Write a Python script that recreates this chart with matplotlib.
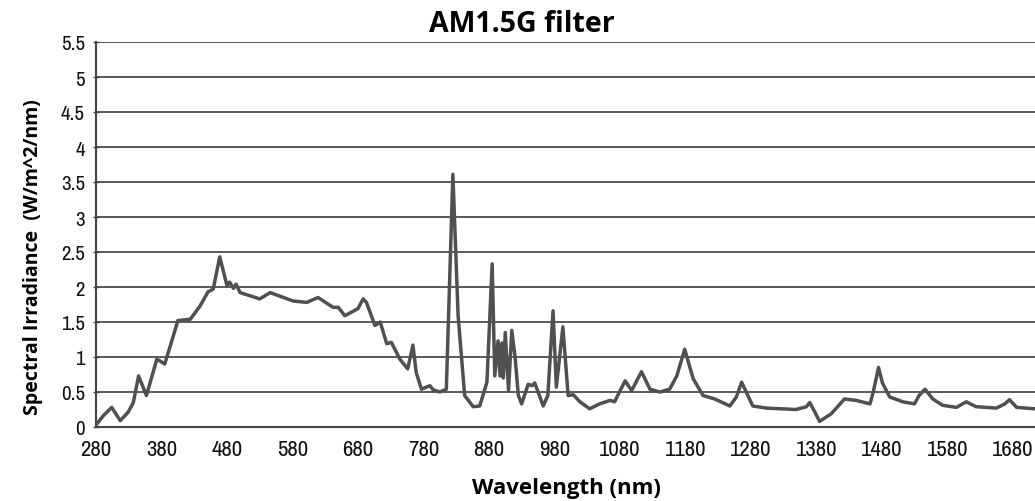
import numpy as np
import matplotlib.pyplot as plt

# wavelength (nm) and spectral irradiance (W/m^2/nm)
wavelength = [281, 291, 304, 317, 329, 337, 345, 357, 373, 385, 398, 405, 424, 439,
              451, 459, 469, 480, 484, 490, 494, 500, 530, 546, 581, 602, 619, 642,
              650, 660, 680, 688, 693, 706, 714, 724, 731, 744, 756, 764, 769, 777,
              790, 795, 805, 815, 825, 833, 843, 856, 866, 877, 885, 889, 894, 897,
              900, 902, 905, 910, 915, 920, 925, 930, 940, 946, 950, 963, 970, 978,
              983, 988, 993, 1001, 1009, 1019, 1034, 1049, 1065, 1072, 1088, 1098,
              1113, 1126, 1141, 1156, 1167, 1179, 1192, 1207, 1225, 1248, 1258, 1266,
              1274, 1283, 1304, 1349, 1365, 1370, 1378, 1385, 1403, 1423, 1441, 1462,
              1467, 1475, 1481, 1492, 1512, 1530, 1537, 1546, 1558, 1573, 1594, 1609,
              1624, 1655, 1668, 1675, 1686, 1714]
irradiance = [0.04, 0.16, 0.28, 0.09, 0.21, 0.35, 0.73, 0.45, 0.97, 0.90, 1.30, 1.52,
              1.54, 1.73, 1.93, 1.97, 2.43, 2.02, 2.07, 1.98, 2.04, 1.92, 1.83, 1.92,
              1.80, 1.78, 1.85, 1.71, 1.71, 1.59, 1.69, 1.83, 1.78, 1.45, 1.50, 1.19,
              1.21, 0.97, 0.83, 1.17, 0.78, 0.54, 0.59, 0.53, 0.50, 0.54, 3.61, 1.59,
              0.45, 0.29, 0.30, 0.64, 2.33, 0.73, 1.23, 0.73, 1.20, 0.70, 1.35, 0.52,
              1.38, 1.00, 0.45, 0.33, 0.61, 0.59, 0.63, 0.30, 0.45, 1.66, 0.57, 1.00,
              1.43, 0.45, 0.46, 0.36, 0.26, 0.33, 0.38, 0.36, 0.66, 0.52, 0.79, 0.54,
              0.50, 0.54, 0.73, 1.11, 0.69, 0.45, 0.40, 0.30, 0.43, 0.64, 0.48, 0.30,
              0.27, 0.25, 0.29, 0.35, 0.21, 0.08, 0.19, 0.40, 0.38, 0.33, 0.50, 0.85,
              0.63, 0.43, 0.36, 0.33, 0.45, 0.54, 0.40, 0.31, 0.28, 0.36, 0.29, 0.27,
              0.33, 0.39, 0.28, 0.26]

xticks = list(range(280, 1681, 100))
yticks = [0, 0.5, 1, 1.5, 2, 2.5, 3, 3.5, 4, 4.5, 5, 5.5]

tick_font = ['Liberation Sans Narrow', 'Archivo Narrow', 'DejaVu Sans']
label_font = ['Open Sans', 'DejaVu Sans']

fig = plt.figure(figsize=(10.35, 5.02), dpi=100)
ax = fig.add_axes([96 / 1035, 74 / 502, 1 - 96 / 1035, 385 / 502])

ax.plot(wavelength, irradiance, color='#505050', linewidth=2.5,
        solid_joinstyle='round', zorder=3)

ax.set_xlim(280, 1714)
ax.set_ylim(0, 5.5)
ax.set_xticks(xticks)
ax.set_yticks(yticks)
ax.set_xticklabels([str(t) for t in xticks], family=tick_font, fontsize=16.5)
ax.set_yticklabels(['%g' % t for t in yticks], family=tick_font, fontsize=15)
ax.tick_params(axis='x', length=0, pad=9, colors='#111111')
ax.tick_params(axis='y', length=4, width=1, direction='inout', pad=6,
               color='#444444', labelcolor='#111111')

ax.grid(axis='y', color='#5a5a5a', linewidth=1.4)
ax.set_axisbelow(True)
for side in ['top', 'right']:
    ax.spines[side].set_visible(False)
ax.spines['left'].set_color('#444444')
ax.spines['left'].set_linewidth(1.5)
ax.spines['bottom'].set_color('#444444')
ax.spines['bottom'].set_linewidth(1.5)

fig.text(522 / 1035, 1 - 24 / 502, 'AM1.5G filter', ha='center', va='center',
         fontsize=20.5, fontweight='bold', family=label_font)
fig.text(33 / 1035, 1 - 257 / 502, 'Spectral Irradiance  (W/m^2/nm)', ha='center',
         va='center', rotation=90, fontsize=14, fontweight='bold', family=label_font)
fig.text(566 / 1035, 1 - 489 / 502, 'Wavelength (nm)', ha='center', va='center',
         fontsize=16, fontweight='bold', family=label_font)

fig.savefig('out.png', dpi=100)
